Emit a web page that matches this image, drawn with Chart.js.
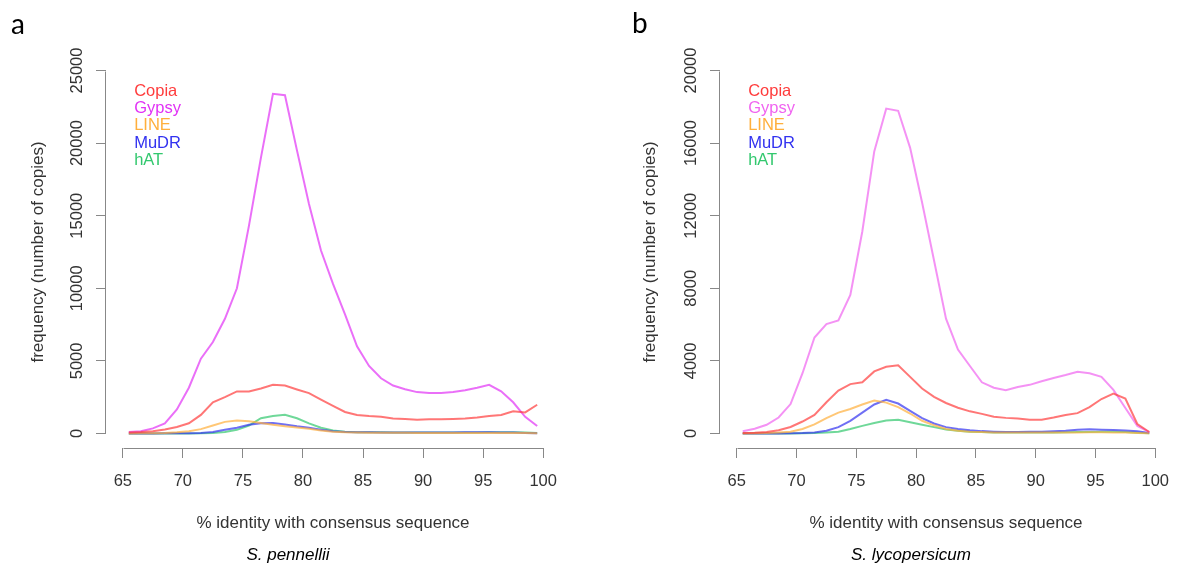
<!DOCTYPE html>
<html>
<head>
<meta charset="utf-8">
<script src="https://cdn.jsdelivr.net/npm/chart.js@4.4.1/dist/chart.umd.min.js"></script>
<style>
  html, body { margin: 0; padding: 0; background: #fff; }
  #page { position: relative; width: 1178px; height: 569px; overflow: hidden; }
  .panel { position: absolute; top: 0; width: 589px; height: 569px; }
  .letter { position: absolute; font-family: Lato, "Open Sans", sans-serif; font-size: 28px; line-height: 28px; color: #000; }
  .species { position: absolute; width: 240px; text-align: center; font-family: "Liberation Sans", Arial, sans-serif;
    font-style: italic; font-size: 17px; line-height: 20px; color: #000; }
</style>
</head>
<body>
<div id="page">
  <div class="panel" style="left:0"><canvas id="chartA" width="589" height="569"></canvas></div>
  <div class="panel" style="left:589px"><canvas id="chartB" width="589" height="569"></canvas></div>
  <div class="letter" style="left:11px; top:9px">a</div>
  <div class="letter" style="left:632px; top:8px">b</div>
  <div class="species" style="left:168px; top:545px">S. pennellii</div>
  <div class="species" style="left:791px; top:545px">S. lycopersicum</div>
</div>
<script>
const families = ["Copia", "Gypsy", "LINE", "MuDR", "hAT"];

// midpoints of the 1% identity bins
const identity = [65.5, 66.5, 67.5, 68.5, 69.5, 70.5, 71.5, 72.5, 73.5, 74.5,
  75.5, 76.5, 77.5, 78.5, 79.5, 80.5, 81.5, 82.5, 83.5, 84.5,
  85.5, 86.5, 87.5, 88.5, 89.5, 90.5, 91.5, 92.5, 93.5, 94.5,
  95.5, 96.5, 97.5, 98.5, 99.5];

const xTicks = [65, 70, 75, 80, 85, 90, 95, 100];
const yTicksA = [0, 5000, 10000, 15000, 20000, 25000];
const yTicksB = [0, 4000, 8000, 12000, 16000, 20000];

// S. pennellii
const penCopia = [75, 100, 150, 280, 450, 700, 1280, 2150, 2500, 2900,
  2900, 3100, 3350, 3300, 3030, 2780, 2330, 1900, 1480, 1280,
  1200, 1150, 1030, 1000, 950, 980, 980, 1000, 1030, 1100,
  1200, 1280, 1530, 1450, 1980];
const penGypsy = [100, 150, 350, 700, 1650, 3150, 5150, 6300, 7900, 10000,
  14300, 19000, 23400, 23300, 19500, 15800, 12600, 10300, 8200, 6000,
  4650, 3800, 3300, 3050, 2850, 2780, 2780, 2850, 2980, 3150,
  3350, 2900, 2150, 1150, 520];
const penLINE = [0, 10, 20, 40, 80, 150, 300, 550, 800, 900,
  850, 720, 600, 500, 420, 320, 200, 120, 80, 60,
  50, 50, 50, 50, 40, 40, 40, 40, 40, 40,
  40, 40, 30, 30, 20];
const penMuDR = [0, 0, 5, 10, 15, 20, 40, 100, 250, 400,
  600, 700, 720, 620, 500, 400, 250, 150, 100, 80,
  80, 70, 60, 60, 60, 60, 70, 70, 80, 80,
  80, 70, 60, 40, 20];
const penHAT = [0, 0, 0, 0, 0, 5, 10, 40, 100, 250,
  550, 1050, 1200, 1290, 1050, 700, 400, 200, 120, 90,
  80, 80, 70, 70, 70, 60, 60, 60, 60, 70,
  80, 90, 80, 60, 40];

// S. lycopersicum
const lycCopia = [20, 40, 80, 180, 360, 660, 1020, 1720, 2360, 2720,
  2820, 3420, 3680, 3760, 3120, 2480, 2020, 1680, 1420, 1220,
  1080, 920, 860, 820, 760, 760, 880, 1020, 1120, 1450,
  1900, 2200, 1920, 520, 80];
const lycGypsy = [120, 260, 480, 880, 1620, 3320, 5290, 6030, 6230, 7630,
  11130, 15540, 17900, 17780, 15740, 12730, 9530, 6330, 4620, 3720,
  2820, 2520, 2380, 2560, 2680, 2880, 3060, 3220, 3400, 3320,
  3120, 2400, 1400, 420, 80];
const lycLINE = [0, 10, 20, 50, 100, 250, 500, 850, 1150, 1350,
  1600, 1820, 1700, 1450, 1100, 700, 450, 250, 150, 100,
  80, 60, 50, 50, 50, 50, 50, 60, 60, 70,
  70, 60, 50, 30, 10];
const lycMuDR = [0, 0, 0, 0, 10, 20, 50, 150, 350, 700,
  1150, 1600, 1850, 1650, 1250, 850, 550, 350, 250, 180,
  130, 100, 80, 80, 90, 100, 120, 150, 200, 230,
  210, 190, 170, 120, 30];
const lycHAT = [0, 0, 0, 0, 0, 10, 20, 50, 100, 250,
  420, 580, 720, 750, 620, 480, 350, 220, 150, 100,
  80, 60, 50, 50, 50, 60, 60, 70, 80, 80,
  90, 90, 80, 40, 10];

const textColor = "#333";
const axisColor = "#888";
const fontName = "'Liberation Sans', Arial, sans-serif";

const colorsA = ["255,60,60", "225,50,245", "255,175,60", "50,50,240", "50,200,110"];
const colorsB = ["255,60,60", "240,100,240", "255,175,60", "50,50,240", "50,200,110"];

function points(values) {
  return identity.map((x, i) => ({ x, y: values[i] }));
}

// R-style axis lines that only run between the first and last tick
const axisLines = {
  id: "axisLines",
  afterDraw(chart) {
    const { ctx, chartArea, scales } = chart;
    const x = scales.x;
    const y = scales.y;
    const bottom = Math.round(chartArea.bottom) + 0.5;
    const left = Math.round(chartArea.left) - 0.5;
    ctx.save();
    ctx.strokeStyle = axisColor;
    ctx.lineWidth = 1;
    ctx.beginPath();
    ctx.moveTo(Math.round(x.getPixelForValue(x.ticks[0].value)) + 0.5, bottom);
    ctx.lineTo(Math.round(x.getPixelForValue(x.ticks[x.ticks.length - 1].value)) + 0.5, bottom);
    ctx.moveTo(left, Math.round(y.getPixelForValue(y.ticks[0].value)) + 0.5);
    ctx.lineTo(left, Math.round(y.getPixelForValue(y.ticks[y.ticks.length - 1].value)) + 0.5);
    ctx.stroke();
    ctx.restore();
  },
};

function makePanel(id, series, colors, yTicks, yMin, yMax, yWidth, yTitlePad, padRight) {
  const datasets = series.map((values, i) => ({
    label: families[i],
    data: points(values),
    borderColor: `rgba(${colors[i]},0.7)`,
    legendColor: `rgb(${colors[i]})`,
    borderWidth: 2,
    pointRadius: 0,
    tension: 0,
    fill: false,
  }));

  return new Chart(document.getElementById(id), {
    type: "line",
    data: { datasets },
    plugins: [axisLines],
    options: {
      responsive: false,
      animation: false,
      devicePixelRatio: 1,
      layout: { padding: { top: 56, right: padRight, left: 0, bottom: 0 } },
      plugins: {
        tooltip: { enabled: false },
        legend: {
          position: "chartArea",
          align: "start",
          // a vertical legend starts at the canvas top, so an empty title pushes it down
          title: { display: true, text: " ", font: { size: 10, lineHeight: 8.2 }, padding: 0 },
          labels: {
            boxWidth: 19,
            boxHeight: 0,
            padding: 0.9,
            font: { family: fontName, size: 16.5 },
            generateLabels: (chart) =>
              chart.data.datasets.map((ds, i) => ({
                text: ds.label,
                fontColor: ds.legendColor,
                fillStyle: "rgba(0,0,0,0)",
                strokeStyle: "rgba(0,0,0,0)",
                lineWidth: 0,
                hidden: false,
                datasetIndex: i,
              })),
          },
        },
      },
      scales: {
        x: {
          type: "linear",
          min: 63.6,
          max: 101.4,
          afterBuildTicks: (axis) => {
            axis.ticks = xTicks.map((v) => ({ value: v }));
          },
          afterFit: (scale) => {
            scale.height = 121;
            scale.paddingLeft = 0;
            scale.paddingRight = 0;
          },
          border: { display: false },
          grid: { drawOnChartArea: false, drawTicks: true, tickLength: 10, color: axisColor },
          ticks: { color: textColor, font: { family: fontName, size: 16.5 }, padding: 14, maxRotation: 0, autoSkip: false },
          title: {
            display: true,
            text: "% identity with consensus sequence",
            color: textColor,
            font: { family: fontName, size: 17 },
            padding: { top: 0, bottom: 35 },
          },
        },
        y: {
          min: yMin,
          max: yMax,
          afterBuildTicks: (axis) => {
            axis.ticks = yTicks.map((v) => ({ value: v }));
          },
          afterFit: (scale) => {
            scale.width = yWidth;
            scale.paddingTop = 0;
            scale.paddingBottom = 0;
          },
          border: { display: false },
          grid: { drawOnChartArea: false, drawTicks: true, tickLength: 10, color: axisColor },
          ticks: {
            color: textColor,
            font: { family: fontName, size: 16.5 },
            minRotation: 90,
            maxRotation: 90,
            crossAlign: "center",
            padding: -4,
            autoSkip: false,
            callback: (v) => String(v),
          },
          title: {
            display: true,
            text: "frequency (number of copies)",
            color: textColor,
            font: { family: fontName, size: 17 },
            padding: { top: yTitlePad, bottom: 0 },
          },
        },
      },
    },
  });
}

makePanel("chartA", [penCopia, penGypsy, penLINE, penMuDR, penHAT], colorsA, yTicksA, -1000, 26000, 106, 28, 29);
makePanel("chartB", [lycCopia, lycGypsy, lycLINE, lycMuDR, lycHAT], colorsB, yTicksB, -800, 20800, 131, 51, 6);
</script>
</body>
</html>
